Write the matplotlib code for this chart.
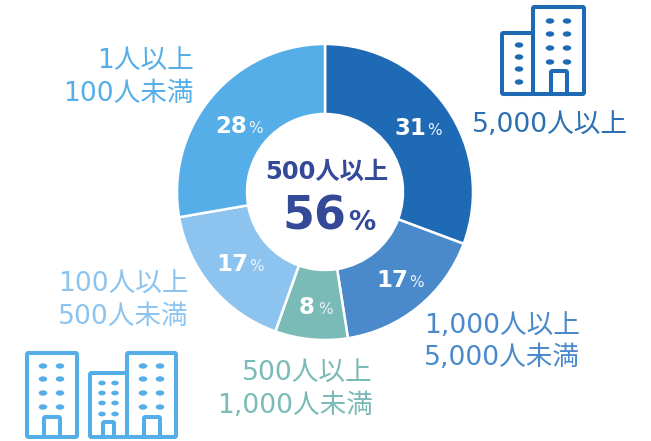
import matplotlib
matplotlib.use('Agg')
import matplotlib.pyplot as plt
from matplotlib.patches import Ellipse, FancyBboxPatch

plt.rcParams['font.family'] = ['DejaVu Sans', 'Noto Sans CJK JP']

W, H = 651, 441

categories = ['5,000人以上', '1,000人以上\n5,000人未満', '500人以上\n1,000人未満', '100人以上\n500人未満', '1人以上\n100人未満']
values = [31, 17, 8, 17, 28]
center_label = '500人以上'
center_value = 56

colors = ['#1F6AB4', '#4A8ACB', '#7ABAB7', '#8DC4EF', '#55AEE8']
label_colors = ['#2B70B2', '#4A8ACB', '#7ABAB7', '#8DC4EF', '#55AEE8']
center_color = '#344A98'

# pixel positions, origin top left
label_pos = [(472, 125, 'left'), (424, 342, 'left'), (373, 390, 'right'), (189, 301, 'right'), (194, 78, 'right')]
pct_pos = [(394, 135), (376, 287), (299, 314), (216, 271), (215, 133)]


def yy(y):
    return H - y


def box(ax, x0, y0, x1, y1, color, lw=2.9, rad=1.5):
    ax.add_patch(FancyBboxPatch((x0, yy(y1)), x1 - x0, y1 - y0, boxstyle='round,pad=0,rounding_size=%s' % rad,
                                fc='white', ec=color, lw=lw, zorder=3))


def windows(ax, xs, ys, color, w=8.5, h=5.4):
    for x in xs:
        for y in ys:
            ax.add_patch(Ellipse((x, yy(y)), w, h, fc=color, ec='none', zorder=4))


fig = plt.figure(figsize=(W / 100, H / 100), dpi=100)
ax = fig.add_axes([0, 0, 1, 1])

ax.pie(values, colors=colors, startangle=90, counterclock=False, center=(325, yy(192)), radius=148,
       wedgeprops=dict(width=70, edgecolor='white', linewidth=1.8))
ax.set_xlim(0, W)
ax.set_ylim(0, H)
ax.set_aspect('equal')
ax.axis('off')

for (x, y), v in zip(pct_pos, values):
    ax.text(x, yy(y), str(v), color='white', fontsize=16.5, fontweight='bold', ha='left', va='baseline', zorder=5)
    ax.text(x + 33 if v > 9 else x + 19, yy(y), '%', color='#EAF3FA', fontsize=11, ha='left', va='baseline', zorder=5)

for (x, y, ha), name, c in zip(label_pos, categories, label_colors):
    ax.text(x, yy(y), name, color=c, fontsize=19.2, ha=ha, va='center', linespacing=1.32,
            multialignment='right' if ha == 'right' else 'left')

ax.text(327, yy(172), center_label, color=center_color, fontsize=17.5, fontweight='bold', ha='center', va='center')
ax.text(282, yy(230), str(center_value), color=center_color, fontsize=33, fontweight='bold', ha='left', va='baseline')
ax.text(348, yy(230), '%', color=center_color, fontsize=19.5, fontweight='bold', ha='left', va='baseline')

# icon top right
c1 = '#1F6AB4'
box(ax, 502, 33, 533, 94, c1)
box(ax, 533, 7, 584, 94, c1)
windows(ax, [550, 567], [21, 34, 48, 62], c1)
windows(ax, [519], [45, 57, 69, 82], c1)
box(ax, 551, 71, 567, 94, c1)

# icon bottom left
c2 = '#55AEE8'
box(ax, 27, 353, 77, 437, c2)
windows(ax, [43, 60], [366, 379, 393, 407], c2)
box(ax, 44, 417, 60, 437, c2)
box(ax, 90, 373, 127, 437, c2)
windows(ax, [102, 115], [383, 393, 403, 414], c2, w=7.5, h=4.8)
box(ax, 103, 422, 114, 437, c2)
box(ax, 127, 353, 176, 437, c2)
windows(ax, [143, 160], [366, 379, 393, 407], c2)
box(ax, 144, 417, 160, 437, c2)

plt.savefig('out.png', dpi=100)
